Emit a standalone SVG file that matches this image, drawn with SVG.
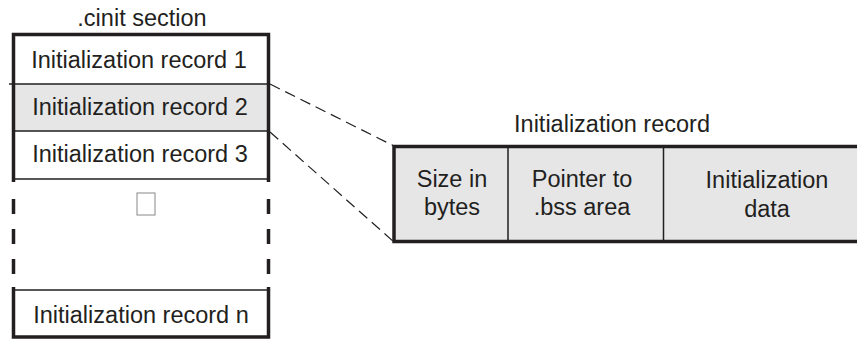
<svg xmlns="http://www.w3.org/2000/svg" width="857" height="339" viewBox="0 0 857 339">
<style>
text{font-family:"Liberation Sans",Arial,sans-serif;font-size:23.5px;fill:#231f20;text-anchor:middle}
.thick{stroke:#231f20;stroke-width:3.5;fill:none}
.thin{stroke:#231f20;stroke-width:1.5;fill:none}
.vd{stroke:#231f20;stroke-width:3.5;stroke-dasharray:15 15;fill:none}
.cd{stroke:#231f20;stroke-width:1.2;stroke-dasharray:11 6;fill:none}
.gray{fill:#e6e6e7}
</style>
<rect width="857" height="339" fill="#fff"/>
<text x="142" y="26">.cinit section</text>
<g id="cinit">
<rect class="gray" x="13.5" y="84" width="255" height="47"/>
<path class="thin" d="M9 84H268.5M13.5 131H268.5M13.5 179H268.5"/>
<path class="thick" d="M13.5 182V34.5H268.5V182"/>
<text x="139" y="68">Initialization record 1</text>
<text x="140" y="115">Initialization record 2</text>
<text x="140" y="162">Initialization record 3</text>
</g>
<g id="gap">
<path class="vd" d="M13.5 199V288M268.5 199V288"/>
<rect x="137" y="193" width="18" height="22" fill="none" stroke="#888" stroke-width="1"/>
</g>
<g id="recn">
<path class="thin" d="M13.5 290H268.5"/>
<path class="thick" d="M13.5 287V337H268.5V287"/>
<text x="141" y="323">Initialization record n</text>
</g>
<g id="connectors">
<path class="cd" d="M270 84L394 146M270 132L394 242"/>
</g>
<text x="612" y="132">Initialization record</text>
<g id="record">
<rect class="gray" x="394" y="146.5" width="480" height="95"/>
<path class="thin" d="M508 146.5V241.5M663.5 146.5V241.5"/>
<path class="thick" d="M874 146.5H394V241.5H874"/>
<text x="452" y="187">Size in</text>
<text x="452" y="215">bytes</text>
<text x="582" y="187">Pointer to</text>
<text x="582" y="215">.bss area</text>
<text x="767" y="188">Initialization</text>
<text x="767" y="217">data</text>
</g>
</svg>
